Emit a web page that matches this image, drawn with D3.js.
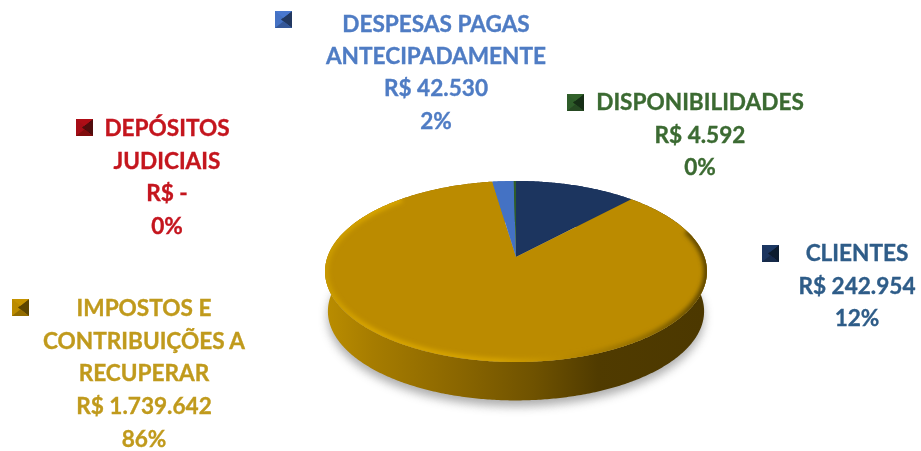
<!DOCTYPE html>
<html>
<head>
<meta charset="utf-8">
<script src="https://cdnjs.cloudflare.com/ajax/libs/d3/7.8.5/d3.min.js"></script>
<style>
html,body{margin:0;padding:0;background:#fff;}
svg{display:block;}
text{font-family:Lato,"Open Sans",sans-serif;font-weight:700;font-size:22.6px;text-anchor:middle;stroke-width:0.35px;}
</style>
</head>
<body>
<div id="chart"></div>
<script>
// dados
var categorias = ["CLIENTES","IMPOSTOS E CONTRIBUIÇÕES A RECUPERAR","DEPÓSITOS JUDICIAIS","DESPESAS PAGAS ANTECIPADAMENTE","DISPONIBILIDADES"];
var valores = [242954,1739642,0,42530,4592];
var valoresTxt = ["R$ 242.954","R$ 1.739.642","R$ -","R$ 42.530","R$ 4.592"];
var percentuais = ["12%","86%","0%","2%","0%"];
var coresPie = ["#1c355f","#bb8b00","#a50f15","#4472c4","#2f5d2a"];
var coresTexto = ["#2e5c88","#c09a1c","#c4141f","#4f7cc4","#3b6a31"];

// quebra de linha das legendas
var linhas = [
    ["CLIENTES"],
    ["IMPOSTOS E","CONTRIBUIÇÕES A","RECUPERAR"],
    ["DEPÓSITOS","JUDICIAIS"],
    ["DESPESAS PAGAS","ANTECIPADAMENTE"],
    ["DISPONIBILIDADES"]
];
// layout: centro do texto, baseline da primeira linha, passo, marcador
var layout = [
    {x:857,y:261,dy:32.5,mx:762,my:245},
    {x:144,y:316,dy:32.7,mx:12,my:299},
    {x:167,y:136,dy:32.5,mx:76,my:119},
    {x:436,y:32,dy:32.2,mx:275,my:11},
    {x:700,y:110,dy:32.5,mx:567,my:94}
];

var W = 921, H = 451;
var svg = d3.select("#chart").append("svg").attr("width",W).attr("height",H);
var defs = svg.append("defs");

function blur(id,s){
    defs.append("filter").attr("id",id)
        .attr("x","-20%").attr("y","-20%").attr("width","140%").attr("height","140%")
        .append("feGaussianBlur").attr("stdDeviation",s);
}
blur("soft",0.6);
blur("rim",2.2);
blur("sombra",5);

function gradiente(id,stops,x1,x2,y1,y2){
    var g = defs.append("linearGradient").attr("id",id).attr("gradientUnits","userSpaceOnUse")
        .attr("x1",x1).attr("x2",x2).attr("y1",y1).attr("y2",y2);
    stops.forEach(function(s){ g.append("stop").attr("offset",s[0]).attr("stop-color",s[1]); });
}

// pizza em perspectiva: o centro da fatia fica acima do centro da elipse
var cx = 516, cy = 257, ax = 188.5, by = 88.2, k = 0.16, prof = 40, esc = 0.985;
function proj(a,baixo){
    var x = Math.sin(a), y = -Math.cos(a), w = 1-k*y;
    var s = baixo ? esc : 1, d = baixo ? prof : 0;
    return [cx+s*ax*x/w, cy+d+s*by*y/w];
}
function amostra(a0,a1,baixo){
    var n = Math.max(2,Math.ceil((a1-a0)/0.01));
    return d3.range(n+1).map(function(i){ return proj(a0+(a1-a0)*i/n,baixo); });
}
var line = d3.line();
var fatias = d3.pie().sort(null).value(function(d){return d;})(valores);

gradiente("lado",[[0,"#b98c00"],[0.12,"#a67c00"],[0.35,"#8a6600"],[0.55,"#6f5200"],[0.72,"#503b00"],[1,"#4c3800"]],328,703,0,0);
gradiente("borda",[[0,"#c99a00"],[0.12,"#d8a500"],[0.45,"#d4a200"],[0.62,"#bb8b00"],[0.85,"#8d6a00"],[1,"#5a4300"]],325,707,0,0);

var pie = svg.append("g").attr("class","pie");

// sombra
pie.append("path")
    .attr("d",line(amostra(0,2*Math.PI,true).map(function(p){return [p[0],p[1]+6];}))+"Z")
    .attr("fill","#8c8c8c").attr("opacity",0.7).attr("filter","url(#sombra)");

// lateral
pie.selectAll("path.lado").data(fatias).enter().append("path").attr("class","lado")
    .filter(function(d){return d.endAngle>d.startAngle;})
    .attr("d",function(d){
        return line(amostra(d.startAngle,d.endAngle,false).concat(amostra(d.startAngle,d.endAngle,true).reverse()))+"Z";
    })
    .attr("fill",function(d){return d.index==1 ? "url(#lado)" : coresPie[d.index];});

// topo
pie.selectAll("path.topo").data(fatias).enter().append("path").attr("class","topo")
    .filter(function(d){return d.endAngle>d.startAngle;})
    .attr("d",function(d){
        return line([[cx,cy]].concat(amostra(d.startAngle,d.endAngle,false)))+"Z";
    })
    .attr("fill",function(d){return coresPie[d.index];});

// chanfro da borda frontal
var fImp = fatias[1];
defs.append("clipPath").attr("id","clipTopo").append("path")
    .attr("d",line(amostra(0,2*Math.PI,false))+"Z");
pie.append("g").attr("clip-path","url(#clipTopo)").append("path")
    .attr("d",line(amostra(fImp.startAngle+0.5,fImp.endAngle-0.6,false)))
    .attr("fill","none").attr("stroke","url(#borda)").attr("stroke-width",7)
    .attr("filter","url(#rim)");

// marcador com chanfro
function marcador(g,m,cor){
    var s = 17, c = s/2;
    var base = d3.color(cor);
    var mk = g.append("g").attr("transform","translate("+m.mx+","+m.my+")").attr("filter","url(#soft)");
    mk.append("rect").attr("width",s).attr("height",s).attr("fill",cor);
    mk.append("path").attr("d",line([[s*0.35,c],[s,0],[s,s]])+"Z").attr("fill",base.darker(2));
    mk.append("path").attr("d",line([[0,0],[s,0],[c,c*0.8]])+"Z").attr("fill",base.brighter(0.15));
    mk.append("path").attr("d",line([[0,s],[s,s],[c,s-c*0.8]])+"Z").attr("fill",base.darker(0.7));
}

var legenda = svg.append("g").attr("class","legenda");
categorias.forEach(function(nome,i){
    var m = layout[i];
    marcador(legenda,m,coresPie[i]);
    var txt = linhas[i].concat([valoresTxt[i],percentuais[i]]);
    var g = legenda.append("g").attr("filter","url(#soft)").attr("fill",coresTexto[i]).attr("stroke",coresTexto[i]);
    g.selectAll("text").data(txt).enter().append("text")
        .attr("x",m.x)
        .attr("y",function(d,j){return m.y+j*m.dy;})
        .text(function(d){return d;});
});
</script>
</body>
</html>
